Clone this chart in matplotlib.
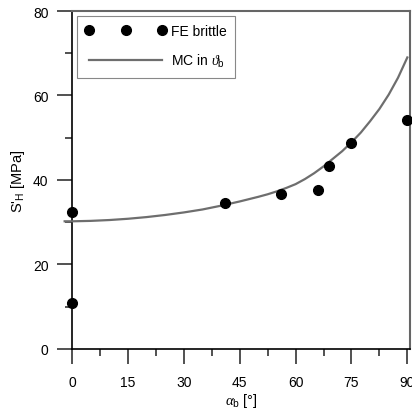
import matplotlib
matplotlib.use('Agg')
import matplotlib.pyplot as plt
from matplotlib.ticker import MultipleLocator

plt.rcParams['font.family'] = ['Liberation Sans', 'DejaVu Sans']
plt.rcParams['mathtext.fontset'] = 'custom'
plt.rcParams['mathtext.rm'] = 'Liberation Sans'
plt.rcParams['mathtext.sf'] = 'Liberation Sans'
plt.rcParams['mathtext.it'] = 'Liberation Serif:italic'
plt.rcParams['font.size'] = 10

# FE brittle points
fe_alpha = [0, 0, 41, 56, 66, 69, 75, 90]
fe_sh = [10.9, 32.5, 34.6, 36.7, 37.7, 43.3, 48.7, 54.2]

# MC curve
mc_alpha = [-2, 0, 5, 10, 15, 20, 25, 30, 35, 40, 45, 50, 52.5, 55, 57.5, 60,
            62.5, 65, 67.5, 70, 72.5, 75, 77.5, 80, 82.5, 85, 87.5, 90]
mc_sh = [30.2, 30.2, 30.3, 30.5, 30.8, 31.2, 31.7, 32.3, 33.0, 33.9, 34.9, 36.0,
         36.6, 37.3, 38.1, 39.0, 40.2, 41.6, 43.2, 45.0, 46.8, 48.9, 51.2,
         53.9, 56.8, 60.2, 64.2, 69.0]

fig = plt.figure(figsize=(4.12, 4.14), dpi=100)
ax = fig.add_axes([0.175, 0.155, 0.82, 0.816])

ax.plot(fe_alpha, fe_sh, 'o', color='black', markersize=7, clip_on=False,
        zorder=4, label='FE brittle')
ax.plot(mc_alpha, mc_sh, '-', color='#6e6e6e', lw=1.6, clip_on=False,
        zorder=3, label=r'MC in $\vartheta_\mathrm{b}$')

ax.set_xlim(0, 90.7)
ax.set_ylim(0, 80)
ax.xaxis.set_major_locator(MultipleLocator(15))
ax.xaxis.set_minor_locator(MultipleLocator(7.5))
ax.yaxis.set_major_locator(MultipleLocator(20))
ax.yaxis.set_minor_locator(MultipleLocator(10))
ax.tick_params(axis='both', which='major', direction='out', length=11,
               width=1.2, color='#333333', labelsize=10)
ax.tick_params(axis='x', which='major', pad=8)
ax.tick_params(axis='y', which='major', pad=6)
ax.tick_params(axis='both', which='minor', direction='out', length=5,
               width=1.2, color='#333333')

for s in ['left', 'bottom']:
    ax.spines[s].set_color('black')
    ax.spines[s].set_linewidth(1.2)
for s in ['top', 'right']:
    ax.spines[s].set_color('#666666')
    ax.spines[s].set_linewidth(1.5)

ax.set_xlabel(r'$\alpha_\mathrm{b}$ [°]', fontsize=10.5, labelpad=1)
ax.set_ylabel(r"S'$_\mathrm{H}$ [MPa]", fontsize=10.5, labelpad=4)

leg = ax.legend(loc='upper left', numpoints=3, handlelength=5.8, labelspacing=1.0,
                fancybox=False, framealpha=1, edgecolor='#888888',
                borderaxespad=0.35, handletextpad=0.4, fontsize=10,
                borderpad=0.6)
leg.get_frame().set_linewidth(0.8)

fig.savefig('out.png', dpi=100)
